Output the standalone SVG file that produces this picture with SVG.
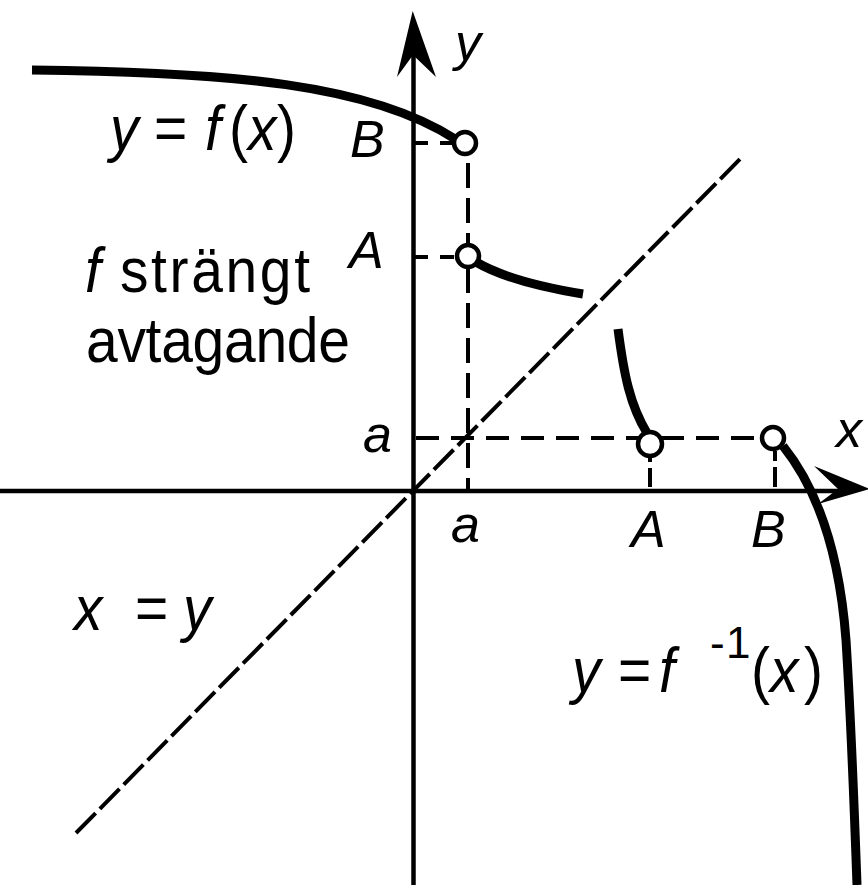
<svg xmlns="http://www.w3.org/2000/svg" width="868" height="885" viewBox="0 0 868 885">
<style>
  .t{font-family:"Liberation Sans",Arial,sans-serif;fill:#000}
  .i{font-style:italic}
  .big{font-size:57px}
  .lab{font-size:52px;font-style:italic}
  .axis{stroke:#000;stroke-width:4.5;fill:none}
  .curve{stroke:#000;stroke-width:9;fill:none;stroke-linecap:butt}
  .dash{stroke:#000;stroke-width:4;fill:none}
  .pt{fill:#fff;stroke:#000;stroke-width:4.5}
</style>
<rect width="868" height="885" fill="#fff"/>
<g id="connectors">
  <line class="dash" x1="76" y1="833" x2="742" y2="157" stroke-width="3.5" stroke-dasharray="28 6"/>
  <line class="dash" x1="414" y1="143" x2="455" y2="143" stroke-dasharray="14 12"/>
  <line class="dash" x1="414" y1="257" x2="458" y2="257" stroke-dasharray="14 12"/>
  <line class="dash" x1="468" y1="153" x2="468" y2="490" stroke-dasharray="25 10" stroke-dashoffset="-10"/>
  <line class="dash" x1="414" y1="438" x2="775" y2="438" stroke-dasharray="23 12" stroke-dashoffset="-2"/>
  <line class="dash" x1="650" y1="456" x2="650" y2="487" stroke-dasharray="6 6 20"/>
  <line class="dash" x1="775" y1="451" x2="775" y2="487" stroke-dasharray="10 6 20"/>
</g>
<g id="axes">
  <line class="axis" x1="413.5" y1="55" x2="413.5" y2="885"/>
  <polygon points="412.7,11 397,77 413,55 436,77" fill="#000"/>
  <line class="axis" x1="0" y1="491" x2="840" y2="491"/>
  <polygon points="870,489 814,466 838,489 818,504" fill="#000"/>
</g>
<g id="curve-f">
  <path class="curve" d="M32,70 C230,72 370,84 455,139"/>
  <path class="curve" d="M476,262 Q510,282 583,294"/>
  <path class="curve" d="M618,329 C624,375 630,405 647,433"/>
</g>
<g id="curve-finv">
  <path class="curve" d="M783,446 C820,492 840,560 846,640 C851,720 854,800 857,885"/>
</g>
<g id="points">
  <circle class="pt" cx="465" cy="143" r="11"/>
  <circle class="pt" cx="468" cy="256" r="11"/>
  <circle class="pt" cx="650" cy="444" r="12"/>
  <circle class="pt" cx="773" cy="438" r="11"/>
</g>
<g id="labels">
  <text class="t lab" x="455" y="60">y</text>
  <text class="t lab" x="350" y="157">B</text>
  <text class="t lab" x="349" y="268">A</text>
  <text class="t lab" x="363" y="452">a</text>
  <text class="t lab" x="836" y="447">x</text>
  <text class="t lab" x="451" y="542">a</text>
  <text class="t lab" x="631" y="547">A</text>
  <text class="t lab" x="751" y="547">B</text>
</g>
<g id="label-f">
  <text class="t big" y="150" transform="matrix(1,0,0,1.1,0,-15)"><tspan class="i" x="110">y</tspan><tspan x="154">=</tspan><tspan class="i" x="205">f</tspan><tspan x="229">(</tspan><tspan class="i" x="248">x</tspan><tspan x="277">)</tspan></text>
</g>
<g id="label-decreasing">
  <text class="t big" y="292" transform="matrix(1,0,0,1.1,0,-29.2)"><tspan class="i" x="85">f</tspan><tspan x="120" textLength="190">strängt</tspan></text>
  <text class="t big" x="86" y="362" textLength="264" transform="matrix(1,0,0,1.1,0,-36.2)">avtagande</text>
</g>
<g id="label-xy">
  <text class="t big" y="630" transform="matrix(1,0,0,1.1,0,-63)"><tspan class="i" x="74">x</tspan><tspan x="135">=</tspan><tspan class="i" x="183">y</tspan></text>
</g>
<g id="label-finv">
  <text class="t big" y="692" transform="matrix(1,0,0,1.1,0,-69.2)"><tspan class="i" x="572">y</tspan><tspan x="618">=</tspan><tspan class="i" x="659">f</tspan><tspan x="751">(</tspan><tspan class="i" x="770">x</tspan><tspan x="804">)</tspan></text>
  <text class="t" font-size="44" y="658"><tspan x="710">-</tspan><tspan x="726">1</tspan></text>
</g>
</svg>
